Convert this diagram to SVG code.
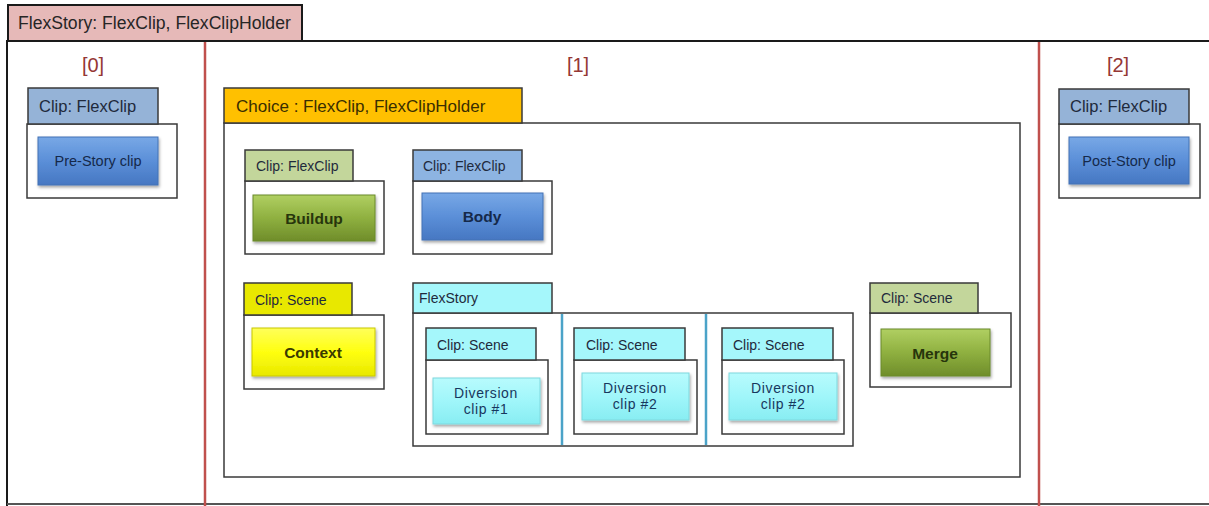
<svg xmlns="http://www.w3.org/2000/svg" width="1209" height="506" viewBox="0 0 1209 506">
<defs>
<linearGradient id="gBlue" x1="0" y1="0" x2="0" y2="1"><stop offset="0" stop-color="#78A8E6"/><stop offset="0.5" stop-color="#5B8FD8"/><stop offset="1" stop-color="#4677C2"/></linearGradient>
<linearGradient id="gGreen" x1="0" y1="0" x2="0" y2="1"><stop offset="0" stop-color="#B0CF62"/><stop offset="0.5" stop-color="#8FB040"/><stop offset="1" stop-color="#6F8D2A"/></linearGradient>
<linearGradient id="gYellow" x1="0" y1="0" x2="0" y2="1"><stop offset="0" stop-color="#FFFF5A"/><stop offset="0.5" stop-color="#FFFF10"/><stop offset="1" stop-color="#E8E800"/></linearGradient>
<linearGradient id="gCyan" x1="0" y1="0" x2="0" y2="1"><stop offset="0" stop-color="#B8FBFD"/><stop offset="0.5" stop-color="#A0F6FA"/><stop offset="1" stop-color="#88EDF2"/></linearGradient>
<filter id="sh" x="-10%" y="-10%" width="125%" height="135%"><feDropShadow dx="1" dy="2" stdDeviation="1.5" flood-color="#000" flood-opacity="0.35"/></filter>
</defs>
<style>
text{font-family:"Liberation Sans",Arial,sans-serif}
.box{fill:#fff;stroke:#3a3a3a;stroke-width:1.5}
.tab{stroke:#3a3a3a;stroke-width:1.5}
.red{stroke:#C0504D;stroke-width:2.5}
.div{stroke:#4BA3C8;stroke-width:2.5}
.idx{font-size:20px;fill:#953735;text-anchor:middle}
.tt{font-size:16.5px;fill:#1F2A3C}
.ts{font-size:14px;fill:#1F2A3C}
.bt{font-size:15.5px;font-weight:bold;text-anchor:middle}
.bs{font-size:14.5px;text-anchor:middle}
.bd{font-size:14px;text-anchor:middle;letter-spacing:0.6px;fill:#17375E}
.btn{filter:url(#sh)}
</style>
<rect width="1209" height="506" fill="#fff"/>

<g id="outer">
<path d="M7,506 V41 H1209" fill="none" stroke="#1a1a1a" stroke-width="2"/>
<line x1="7" y1="504" x2="1209" y2="504" stroke="#555" stroke-width="2"/>
<rect x="8" y="5" width="294" height="36" fill="#E6B9B8" stroke="#1a1a1a" stroke-width="2"/>
<text x="18" y="29" font-size="17.6" fill="#262626">FlexStory:  FlexClip, FlexClipHolder</text>
</g>

<g id="separators">
<line class="red" x1="205" y1="42" x2="205" y2="506"/>
<line class="red" x1="1039" y1="42" x2="1039" y2="506"/>
<text class="idx" x="93" y="72">[0]</text>
<text class="idx" x="578" y="72">[1]</text>
<text class="idx" x="1118" y="72">[2]</text>
</g>

<g id="pre-story">
<rect class="box" x="27" y="124" width="150" height="74"/>
<rect class="tab" x="28" y="88" width="130" height="36" fill="#95B3D7"/>
<text class="tt" x="39" y="112">Clip: FlexClip</text>
<rect class="btn" x="38" y="137" width="120" height="48" fill="url(#gBlue)" stroke="#4272B5"/>
<text class="bs" x="98" y="166" fill="#15294A">Pre-Story clip</text>
</g>

<g id="choice">
<rect class="box" x="224" y="123" width="796" height="354"/>
<rect class="tab" x="224" y="88" width="298" height="35" fill="#FFC000"/>
<text x="236" y="112" font-size="17" fill="#3A2E00">Choice : FlexClip, FlexClipHolder</text>
</g>

<g id="buildup">
<rect class="box" x="245" y="181" width="139" height="73"/>
<rect class="tab" x="245" y="150" width="108" height="31" fill="#C3D69B"/>
<text class="ts" x="256" y="171">Clip: FlexClip</text>
<rect class="btn" x="253" y="195" width="122" height="46" fill="url(#gGreen)" stroke="#6A8A2A"/>
<text class="bt" x="314" y="224" fill="#27350C">Buildup</text>
</g>

<g id="body">
<rect class="box" x="413" y="181" width="139" height="73"/>
<rect class="tab" x="413" y="150" width="109" height="31" fill="#8DB4E2"/>
<text class="ts" x="423" y="171">Clip: FlexClip</text>
<rect class="btn" x="422" y="193" width="121" height="47" fill="url(#gBlue)" stroke="#4272B5"/>
<text class="bt" x="482" y="222" fill="#15294A">Body</text>
</g>

<g id="context">
<rect class="box" x="244" y="315" width="140" height="74"/>
<rect class="tab" x="244" y="283" width="108" height="32" fill="#E8E800"/>
<text class="ts" x="255" y="305">Clip: Scene</text>
<rect class="btn" x="252" y="328" width="123" height="48" fill="url(#gYellow)" stroke="#C8C800"/>
<text class="bt" x="313" y="358" fill="#3A3A00">Context</text>
</g>

<g id="flexstory">
<rect class="box" x="413" y="313" width="440" height="133"/>
<rect class="tab" x="413" y="283" width="139" height="30" fill="#A5F7FB"/>
<text class="ts" x="419" y="303">FlexStory</text>
<line class="div" x1="562" y1="314" x2="562" y2="445"/>
<line class="div" x1="706" y1="314" x2="706" y2="445"/>
</g>

<g id="diversion1">
<rect class="box" x="426" y="360" width="122" height="74"/>
<rect class="tab" x="426" y="328" width="110" height="32" fill="#A5F7FB"/>
<text class="ts" x="437" y="350">Clip: Scene</text>
<rect class="btn" x="433" y="378" width="107" height="46" fill="url(#gCyan)" stroke="#7ED8DE"/>
<text class="bd" x="486" y="398">Diversion</text>
<text class="bd" x="486" y="414">clip #1</text>
</g>

<g id="diversion2">
<rect class="box" x="574" y="360" width="123" height="74"/>
<rect class="tab" x="574" y="328" width="111" height="32" fill="#A5F7FB"/>
<text class="ts" x="586" y="350">Clip: Scene</text>
<rect class="btn" x="582" y="373" width="107" height="47" fill="url(#gCyan)" stroke="#7ED8DE"/>
<text class="bd" x="635" y="393">Diversion</text>
<text class="bd" x="635" y="409">clip #2</text>
</g>

<g id="diversion3">
<rect class="box" x="722" y="360" width="122" height="74"/>
<rect class="tab" x="722" y="328" width="111" height="32" fill="#A5F7FB"/>
<text class="ts" x="733" y="350">Clip: Scene</text>
<rect class="btn" x="729" y="373" width="108" height="47" fill="url(#gCyan)" stroke="#7ED8DE"/>
<text class="bd" x="783" y="393">Diversion</text>
<text class="bd" x="783" y="409">clip #2</text>
</g>

<g id="merge">
<rect class="box" x="870" y="313" width="141" height="74"/>
<rect class="tab" x="870" y="283" width="108" height="30" fill="#C3D69B"/>
<text class="ts" x="881" y="303">Clip: Scene</text>
<rect class="btn" x="881" y="329" width="109" height="47" fill="url(#gGreen)" stroke="#6A8A2A"/>
<text class="bt" x="935" y="359" fill="#27350C">Merge</text>
</g>

<g id="post-story">
<rect class="box" x="1059" y="124" width="141" height="74"/>
<rect class="tab" x="1059" y="89" width="130" height="35" fill="#95B3D7"/>
<text class="tt" x="1070" y="112">Clip: FlexClip</text>
<rect class="btn" x="1069" y="137" width="120" height="47" fill="url(#gBlue)" stroke="#4272B5"/>
<text class="bs" x="1129" y="166" fill="#15294A">Post-Story clip</text>
</g>
</svg>
